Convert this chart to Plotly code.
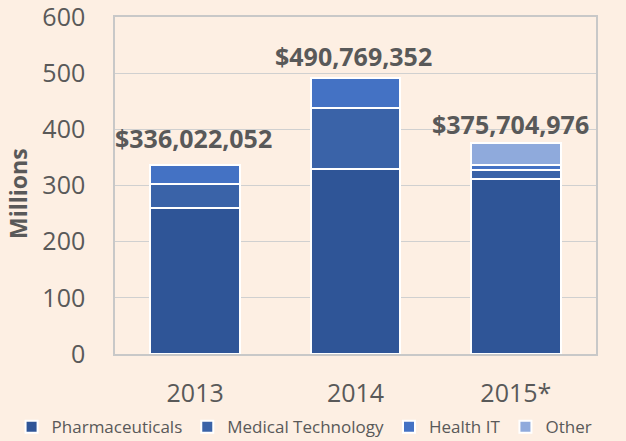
import plotly.graph_objects as go

years = ["2013", "2014", "2015*"]
pharma = [260, 330, 312]
medtech = [42, 108, 15]
health_it = [34, 52.8, 10]
other = [0, 0, 38.7]
totals = [336022052, 490769352, 375704976]
label_y = [385, 531, 410]
label_xshift = [-2, -2, -5]

colors = {"Pharmaceuticals": "#2F5597", "Medical Technology": "#3A63A8",
          "Health IT": "#4472C4", "Other": "#8FAADC"}

FONT = "Open Sans"
GRAY = "#595959"
BG = "#FDEFE3"

fig = go.Figure()
for name, vals in [("Pharmaceuticals", pharma), ("Medical Technology", medtech),
                   ("Health IT", health_it), ("Other", other)]:
    fig.add_trace(go.Bar(x=years, y=vals, name=name,
                         marker=dict(color=colors[name], line=dict(color="white", width=2))))

# annotations on a category axis are positioned by category index
for i, (t, yy, dx) in enumerate(zip(totals, label_y, label_xshift)):
    fig.add_annotation(x=i, y=yy, text="<b>${:,}</b>".format(t), showarrow=False,
                       xshift=dx, font=dict(family=FONT, size=25, color=GRAY),
                       yanchor="middle")

# y-axis title
fig.add_annotation(xref="paper", yref="paper", x=-0.2017, y=0.478, text="<b>Millions</b>",
                   textangle=-90, showarrow=False, xanchor="center", yanchor="middle",
                   font=dict(family=FONT, size=23, color=GRAY))

fig.update_layout(
    barmode="stack", bargap=0.44,
    width=626, height=441,
    margin=dict(l=115, r=30, t=17, b=87, autoexpand=False),
    paper_bgcolor=BG, plot_bgcolor=BG,
    font=dict(family=FONT, color=GRAY),
    legend=dict(orientation="h", x=-0.215, xanchor="left", y=-0.217, yanchor="middle",
                font=dict(size=17, color=GRAY), traceorder="normal", itemwidth=30),
    showlegend=True,
)
fig.update_yaxes(range=[0, 600], dtick=100, showgrid=True, gridcolor="#D0D0D0", gridwidth=1,
                 showline=True, linecolor="#C8C8C8", linewidth=1.5, mirror=True,
                 ticks="outside", ticklen=23, tickcolor=BG, ticklabeloverflow="allow",
                 tickfont=dict(size=25, color=GRAY), zeroline=False)
fig.update_xaxes(type="category", categoryorder="array", categoryarray=years,
                 range=[-0.5, len(years) - 0.5],
                 showline=True, linecolor="#C8C8C8", linewidth=1.5, mirror=True,
                 ticks="outside", ticklen=16, tickcolor=BG,
                 tickfont=dict(size=25, color=GRAY))

fig.write_html("out.html", config={"displayModeBar": False},
               post_script="document.body.style.margin='0';")
